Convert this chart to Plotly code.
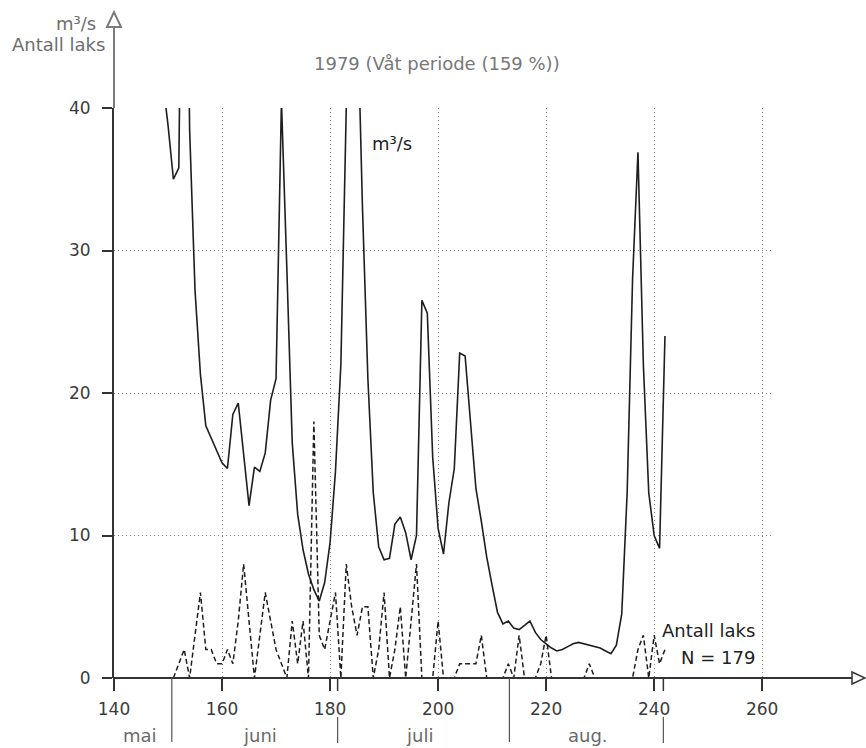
import plotly.graph_objects as go

# Daily discharge (m³/s), day of year 149-242, 1979
flow_days = list(range(149, 243))
flow_values = [
    42.0, 38.8, 35.0, 35.8, 70.0, 38.5, 27.2, 21.3, 17.7, 16.8,   # 149-158
    16.0, 15.1, 14.7, 18.5, 19.3, 15.8, 12.1, 14.8, 14.5, 15.8,   # 159-168
    19.5, 21.0, 40.5, 28.7, 16.5, 11.5, 9.0, 7.3, 6.2, 5.4,       # 169-178
    6.7, 9.5, 14.5, 22.0, 45.0, 58.0, 48.0, 33.0, 21.0, 13.0,     # 179-188
    9.2, 8.3, 8.4, 10.8, 11.3, 10.2, 8.3, 10.0, 26.5, 25.6,       # 189-198
    15.5, 10.5, 8.7, 12.3, 14.7, 22.8, 22.6, 18.0, 13.3, 11.0,    # 199-208
    8.5, 6.5, 4.6, 3.8, 4.0, 3.5, 3.4, 3.7, 4.0, 3.2,             # 209-218
    2.7, 2.4, 2.1, 1.9, 2.0, 2.2, 2.4, 2.5, 2.4, 2.3,             # 219-228
    2.2, 2.1, 1.9, 1.7, 2.3, 4.5, 13.0, 28.0, 36.9, 22.0,         # 229-238
    13.0, 10.0, 9.1, 24.0,                                        # 239-242
]

# Daily salmon count, day of year 151-242 (total 179)
fish_days = list(range(151, 243))
fish_counts = [
    0, 1, 2, 0, 3, 6, 2, 2, 1, 1,      # 151-160
    2, 1, 4, 8, 4, 0, 3, 6, 4, 2,      # 161-170
    1, 0, 4, 1, 4, 0, 18, 3, 2, 4,     # 171-180
    6, 0, 8, 5, 3, 5, 5, 0, 2, 6,      # 181-190
    0, 2, 5, 0, 4, 8, 0, 0, 0, 4,      # 191-200
    0, 0, 0, 1, 1, 1, 1, 3, 0, 0,      # 201-210
    0, 0, 1, 0, 3, 0, 0, 0, 1, 3,      # 211-220
    0, 0, 0, 0, 0, 0, 0, 1, 0, 0,      # 221-230
    0, 0, 0, 0, 0, 0, 2, 3, 0, 3,      # 231-240
    1, 2,                              # 241-242
]

x_ticks = [140, 160, 180, 200, 220, 240, 260]
y_ticks = [0, 10, 20, 30, 40]

# Month boundaries (day of year) and month label positions
month_bounds = [150.7, 181.4, 213.2, 241.7]
month_names = ["mai", "juni", "juli", "aug."]
month_label_days = [144.8, 167.1, 196.5, 227.7]

X_RANGE = [140, 262]
Y_RANGE = [0, 40]

TICK_FONT = dict(family="DejaVu Sans", size=17, color="#3c3c3c")
GREY_FONT = dict(family="DejaVu Sans", size=18, color="#6e6e6e")
DARK_FONT = dict(family="DejaVu Sans", size=18, color="#222222")

fig = go.Figure()

fig.add_trace(go.Scatter(
    x=flow_days, y=flow_values, mode="lines",
    line=dict(color="#1e1e1e", width=1.6),
    name="m³/s",
))
fig.add_trace(go.Scatter(
    x=fish_days, y=fish_counts, mode="lines",
    line=dict(color="#1e1e1e", width=1.5, dash="5px,3px"),
    name="Antall laks",
))

axis_common = dict(
    linecolor="#333333", linewidth=2,
    ticks="outside", tickcolor="#333333", tickwidth=1.5,
    showgrid=True, gridcolor="#8a8a8a", gridwidth=1, griddash="1px,3px",
    zeroline=False, tickfont=TICK_FONT, fixedrange=True,
    layer="above traces",
)

# the day axis line itself is drawn as a shape (so it covers the zero counts)
fig.update_xaxes(range=X_RANGE, tickvals=x_ticks, ticktext=[str(v) for v in x_ticks],
                 ticklen=12, ticklabelstandoff=4, showline=False, **axis_common)
fig.update_yaxes(range=Y_RANGE, tickvals=y_ticks, ticktext=[str(v) for v in y_ticks],
                 ticklen=10, ticklabelstandoff=8, showline=True, **axis_common)

W, H = 866, 748
ML, MR, MT, MB = 114, 93, 108, 70
PW = W - ML - MR
PH = H - MT - MB


def px(xpix):
    return (xpix - ML) / PW


def py(ypix):
    return (H - MB - ypix) / PH


def day_to_paper(d):
    return (d - X_RANGE[0]) / (X_RANGE[1] - X_RANGE[0])


shapes = []
# y-axis extension with arrow head
shapes.append(dict(type="line", xref="paper", yref="paper",
                   x0=0, x1=0, y0=1, y1=py(14),
                   line=dict(color="#7a7a7a", width=2)))
shapes.append(dict(type="path", xref="paper", yref="paper",
                   path=f"M {px(ML-7)},{py(27)} L 0,{py(12)} L {px(ML+7)},{py(27)} Z",
                   line=dict(color="#7a7a7a", width=2), fillcolor="white"))
# day axis with arrow head
shapes.append(dict(type="line", xref="paper", yref="paper",
                   x0=px(ML - 1), x1=px(852), y0=0, y1=0,
                   line=dict(color="#333333", width=2.2)))
shapes.append(dict(type="path", xref="paper", yref="paper",
                   path=f"M {px(852)},{py(672)} L {px(865)},0 L {px(852)},{py(684)} Z",
                   line=dict(color="#333333", width=1.5), fillcolor="white"))

# month separators below the day axis
full_sep = {0, 2}
for i, d in enumerate(month_bounds):
    xp = day_to_paper(d)
    if i in full_sep:
        shapes.append(dict(type="line", xref="paper", yref="paper",
                           x0=xp, x1=xp, y0=0, y1=py(742),
                           line=dict(color="#555555", width=1.2)))
    else:
        shapes.append(dict(type="line", xref="paper", yref="paper",
                           x0=xp, x1=xp, y0=0, y1=py(691),
                           line=dict(color="#333333", width=1.5)))
        shapes.append(dict(type="line", xref="paper", yref="paper",
                           x0=xp, x1=xp, y0=py(717), y1=py(743),
                           line=dict(color="#555555", width=1.2)))

annotations = []
for name, d in zip(month_names, month_label_days):
    annotations.append(dict(x=d, y=py(735), xref="x", yref="paper", text=name,
                            showarrow=False, xanchor="center", yanchor="middle",
                            font=dict(family="DejaVu Sans", size=18, color="#6a6a6a")))

annotations += [
    dict(x=px(437), y=py(64), xref="paper", yref="paper",
         text="1979 (Våt periode (159 %))", showarrow=False,
         xanchor="center", yanchor="middle",
         font=dict(family="DejaVu Sans", size=18, color="#777777")),
    dict(x=px(98), y=py(24), xref="paper", yref="paper", text="m³/s",
         showarrow=False, xanchor="right", yanchor="middle", font=GREY_FONT),
    dict(x=px(107), y=py(44), xref="paper", yref="paper", text="Antall laks",
         showarrow=False, xanchor="right", yanchor="middle", font=GREY_FONT),
    dict(x=191.4, y=37.5, xref="x", yref="y", text="m³/s",
         showarrow=False, xanchor="center", yanchor="middle", font=DARK_FONT),
    dict(x=259.1, y=3.3, xref="x", yref="y", text="Antall laks",
         showarrow=False, xanchor="right", yanchor="middle", font=DARK_FONT),
    dict(x=259.1, y=1.45, xref="x", yref="y", text="N = 179",
         showarrow=False, xanchor="right", yanchor="middle", font=DARK_FONT),
]

fig.update_layout(
    width=W, height=H,
    margin=dict(l=ML, r=MR, t=MT, b=MB, pad=0),
    plot_bgcolor="white", paper_bgcolor="white",
    showlegend=False,
    shapes=shapes,
    annotations=annotations,
)

fig.write_html("out.html")
